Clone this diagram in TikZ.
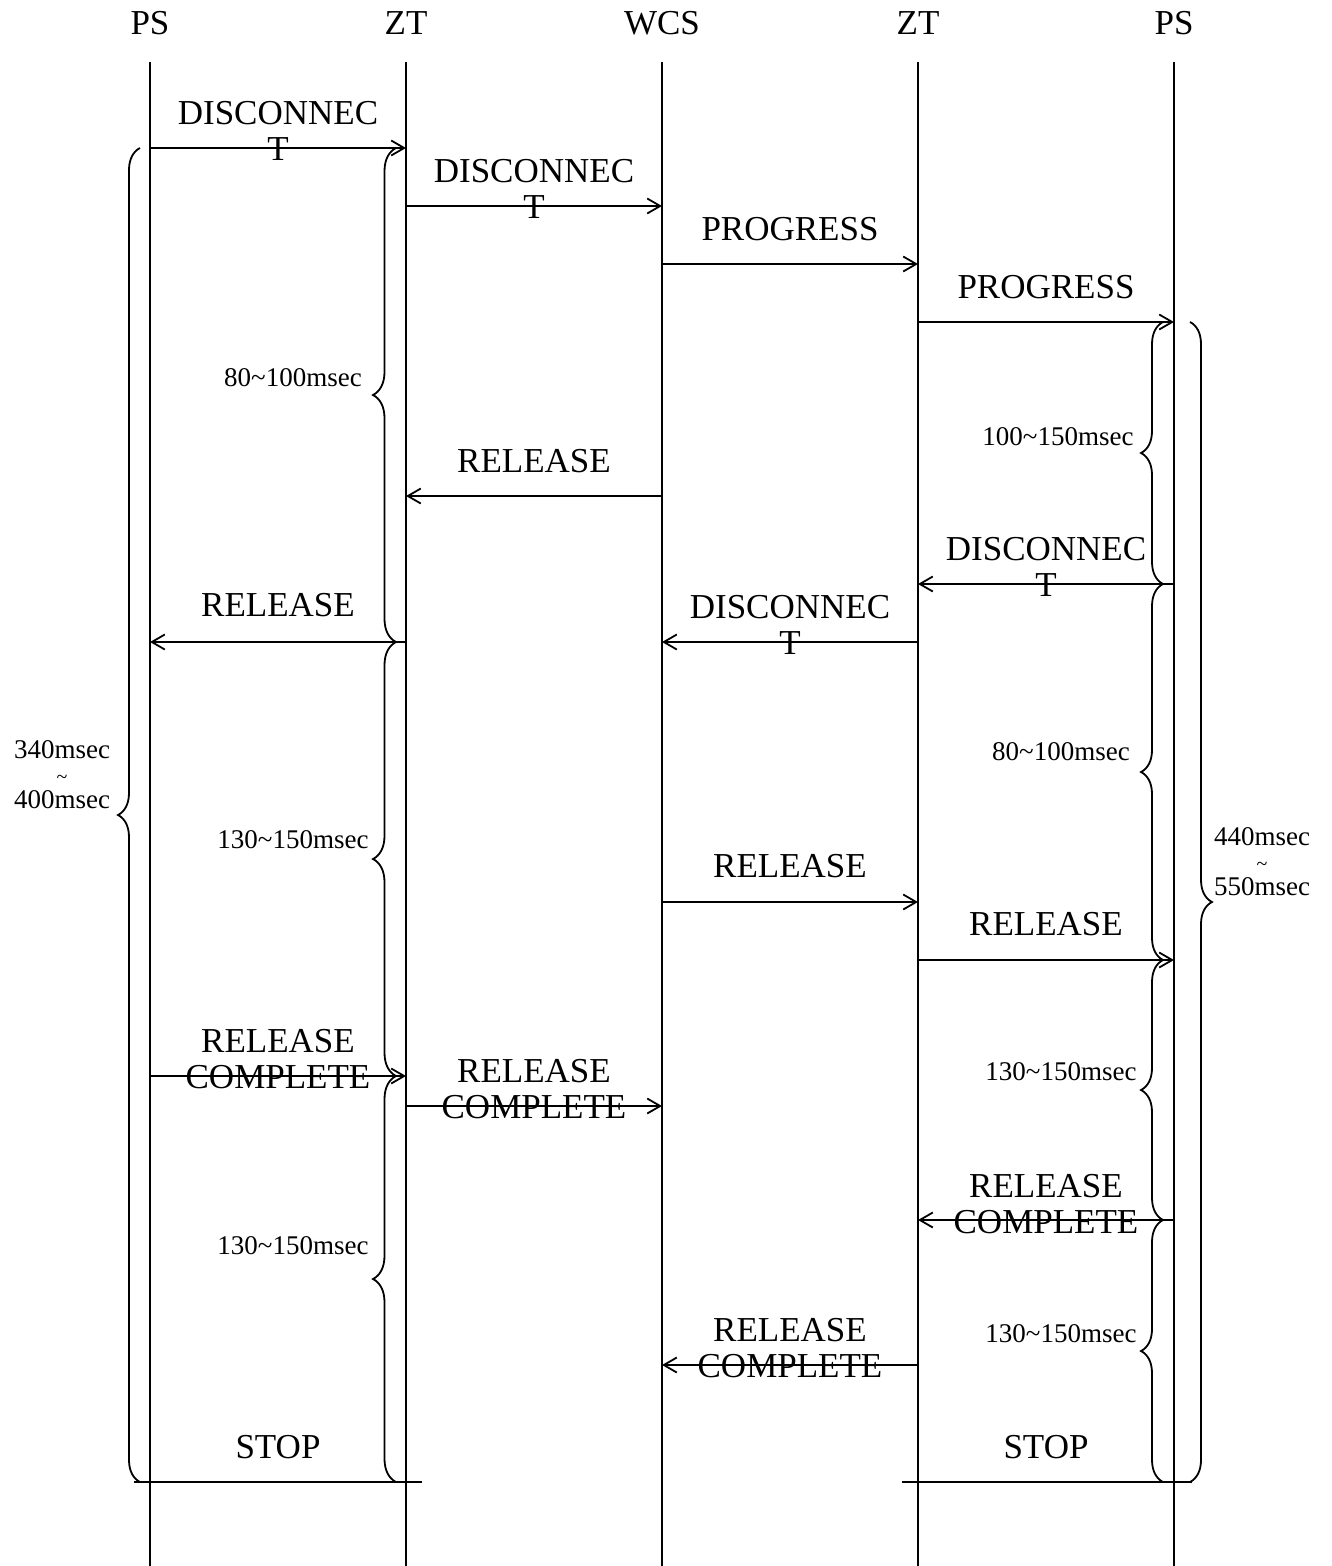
\documentclass[tikz,border=0pt]{standalone}
\usepackage{fontspec}
\setmainfont{Liberation Serif}
\usetikzlibrary{arrows.meta,decorations.pathreplacing}
\begin{document}
\begin{tikzpicture}[x=1pt,y=-1pt,
  lifeline/.style={line width=2pt},
  msg/.style={line width=1.8pt,-{Straight Barb[length=13pt,width=15pt,line width=1.8pt]}},
  head/.style={font=\fontsize{35}{36}\selectfont,inner sep=0pt,anchor=base},
  lbl/.style={font=\fontsize{35}{36}\selectfont,inner sep=0pt,align=center,anchor=base},
  dur/.style={font=\fontsize{27}{25}\selectfont,inner sep=0pt,align=center},
  span/.style={line width=1.8pt,decorate,decoration={brace,amplitude=#1}},
]
\useasboundingbox (0,0) rectangle (1331,1566);

% participants
\node[head] (hps1) at (150,34) {PS};
\node[head] (hzt1) at (406,34) {ZT};
\node[head] (hwcs) at (662,34) {WCS};
\node[head] (hzt2) at (918,34) {ZT};
\node[head] (hps2) at (1174,34) {PS};

% lifelines
\foreach \n in {hps1,hzt1,hwcs,hzt2,hps2}
  \draw[lifeline] (\n |- 0,62) -- (\n |- 0,1566);

% messages (two-line labels are placed by the baseline of their last line)
\draw[msg] (hps1 |- 0,148) -- (hzt1 |- 0,148);
\node[lbl] (m1) at (278,160) {DISCONNEC\\T};
\draw[msg] (hzt1 |- 0,206) -- (hwcs |- 0,206);
\node[lbl] (m2) at (534,218) {DISCONNEC\\T};
\draw[msg] (hwcs |- 0,264) -- (hzt2 |- 0,264);
\node[lbl] (m3) at (790,240) {PROGRESS};
\draw[msg] (hzt2 |- 0,322) -- (hps2 |- 0,322);
\node[lbl] (m4) at (1046,298) {PROGRESS};
\draw[msg] (hwcs |- 0,496) -- (hzt1 |- 0,496);
\node[lbl] (m5) at (534,472) {RELEASE};
\draw[msg] (hps2 |- 0,584) -- (hzt2 |- 0,584);
\node[lbl] (m6) at (1046,596) {DISCONNEC\\T};
\draw[msg] (hzt1 |- 0,642) -- (hps1 |- 0,642);
\node[lbl] (m7) at (278,616) {RELEASE};
\draw[msg] (hzt2 |- 0,642) -- (hwcs |- 0,642);
\node[lbl] (m8) at (790,654) {DISCONNEC\\T};
\draw[msg] (hwcs |- 0,902) -- (hzt2 |- 0,902);
\node[lbl] (m9) at (790,877) {RELEASE};
\draw[msg] (hzt2 |- 0,960) -- (hps2 |- 0,960);
\node[lbl] (m10) at (1046,935) {RELEASE};
\draw[msg] (hps1 |- 0,1076) -- (hzt1 |- 0,1076);
\node[lbl] (m11) at (278,1088) {RELEASE\\COMPLETE};
\draw[msg] (hzt1 |- 0,1106) -- (hwcs |- 0,1106);
\node[lbl] (m12) at (534,1118) {RELEASE\\COMPLETE};
\draw[msg] (hps2 |- 0,1220) -- (hzt2 |- 0,1220);
\node[lbl] (m13) at (1046,1233) {RELEASE\\COMPLETE};
\draw[msg] (hzt2 |- 0,1365) -- (hwcs |- 0,1365);
\node[lbl] (m14) at (790,1377) {RELEASE\\COMPLETE};

% end of the sequence
\draw[lifeline] (134,1482) -- (422,1482);
\node[lbl] (stop1) at (278,1458) {STOP};
\draw[lifeline] (902,1482) -- (1192,1482);
\node[lbl] (stop2) at (1046,1458) {STOP};

% timing braces, left side
\draw[span=22pt] (140,1482) -- (140,148);
\node[dur] (t0) at (62,775) {340msec\\{\fontsize{20}{25}\selectfont\textasciitilde}\\400msec};
\draw[span=23pt] (396,642) -- (396,148);
\node[dur] (t1) at (293,378) {80\textasciitilde100msec};
\draw[span=23pt] (396,1076) -- (396,642);
\node[dur] (t2) at (293,840) {130\textasciitilde150msec};
\draw[span=23pt] (396,1482) -- (396,1076);
\node[dur] (t3) at (293,1246) {130\textasciitilde150msec};

% timing braces, right side
\draw[span=22pt] (1163,584) -- (1163,322);
\node[dur] (t4) at (1058,437) {100\textasciitilde150msec};
\draw[span=22pt] (1163,960) -- (1163,584);
\node[dur] (t5) at (1061,752) {80\textasciitilde100msec};
\draw[span=22pt] (1163,1220) -- (1163,960);
\node[dur] (t6) at (1061,1072) {130\textasciitilde150msec};
\draw[span=22pt] (1163,1482) -- (1163,1220);
\node[dur] (t7) at (1061,1334) {130\textasciitilde150msec};
\draw[span=22pt] (1190,322) -- (1190,1482);
\node[dur] (t8) at (1262,862) {440msec\\{\fontsize{20}{25}\selectfont\textasciitilde}\\550msec};
\end{tikzpicture}
\end{document}
